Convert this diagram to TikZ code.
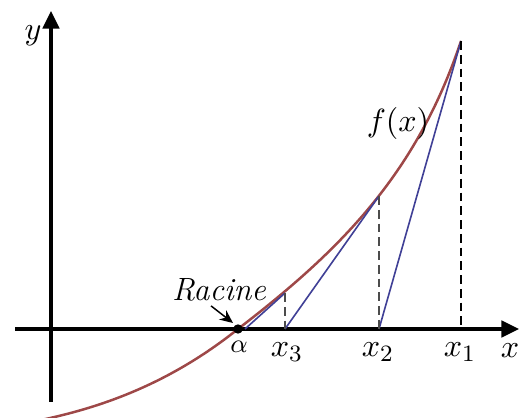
\documentclass[tikz,border=0pt]{standalone}
\usetikzlibrary{arrows.meta, positioning, calc}

\begin{document}
\begin{tikzpicture}[
  x=0.012cm, y=-0.012cm,
  % ---- styles ----
  axis/.style={line width=1.1pt, -{Triangle[length=6pt, width=5.6pt]}},
  fcurve/.style={draw=Cf, line width=0.85pt},
  secant/.style={draw=Cs, line width=0.55pt},
  guide/.style={draw=#1, line width=0.6pt, dash pattern=on 3pt off 1.7pt},
  lbl/.style={font=\fontsize{11}{13}\selectfont, inner sep=1pt},
  root/.style={circle, fill=black, inner sep=0pt, minimum size=3.2pt},
]

% ---- colour palette ----
\definecolor{Cf}{RGB}{158,72,72}   % f(x)
\definecolor{Cs}{RGB}{64,64,150}   % secants
\colorlet{Cg}{black!70}            % short guides

\clip (0,0) rectangle (522,418);

% =========================================================
% points on the curve and on the axis
% =========================================================
\coordinate (O)  at (51,329);
\coordinate (xa) at (15,329);
\coordinate (xb) at (519,329);
\coordinate (ya) at (51,402);
\coordinate (yb) at (51,11);

\coordinate (A)  at (238,329);   % racine
\coordinate (X4) at (245,329);
\coordinate (X3) at (285,329);
\coordinate (X2) at (379,329);
\coordinate (X1) at (461,329);
\coordinate (F3) at (285,293);
\coordinate (F2) at (379,196);
\coordinate (F1) at (461,41);
\coordinate (F0) at (36,421);

% =========================================================
% axes
% =========================================================
\draw[axis] (xa) -- (xb);
\draw[axis] (ya) -- (yb);

% =========================================================
% f(x)
% =========================================================
\draw[fcurve] (F0) .. controls (104,407.5) and (172,381.8) .. (A)
                   .. controls (338,252) and (416,176) .. (F1);

% =========================================================
% secants and guides
% =========================================================
\draw[secant] (F1) -- (X2);
\draw[secant] (F2) -- (X3);
\draw[secant] (F3) -- (X4);

\draw[guide=black] (F1) -- (X1);
\draw[guide=Cg]    (F2) -- (X2);
\draw[guide=Cg]    (F3) -- (X3);

\node[root] (rt) at (A) {};

% =========================================================
% labels
% =========================================================
\node[lbl] (Ly)  at (33,36)   {$y$};
\node[lbl] (Lx)  at (510,351) {$x$};
\node[lbl] (L1)  at (460,352) {$x_1$};
\node[lbl] (L2)  at (378,352) {$x_2$};
\node[lbl] (L3)  at (287,352) {$x_3$};
\node[lbl, font=\small] (La) at (239,347) {$\alpha$};
\node[lbl] (Lf)  at (398,123) {$f(x)$};
\node[lbl] (Lr)  at (219,290) {\itshape Racine};

\draw[line width=0.5pt, -{Stealth[length=4.5pt, width=4pt]}]
    ($(Lr.south)+(-8,1)$) -- ($(rt)+(-5,-6)$);

\end{tikzpicture}
\end{document}
